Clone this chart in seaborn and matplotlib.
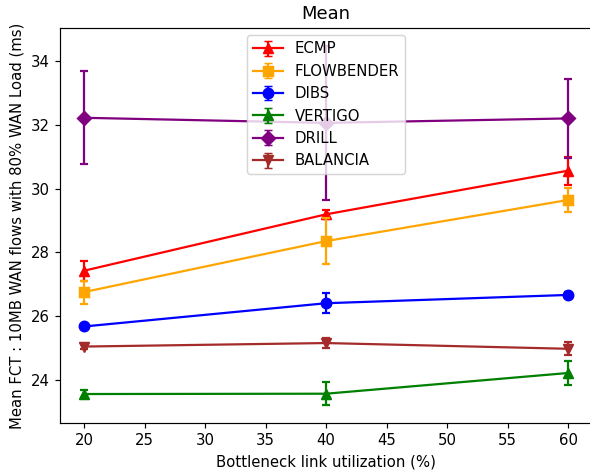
import numpy as np
import pandas as pd
import seaborn as sns
import matplotlib
matplotlib.use("Agg")
import matplotlib.pyplot as plt

# Bottleneck link utilization (%)
utilization = [20, 40, 60]

# Mean FCT (ms) and error per scheme
ecmp = [27.42, 29.19, 30.56]
ecmp_err = [0.32, 0.14, 0.44]
flowbender = [26.75, 28.35, 29.64]
flowbender_err = [0.36, 0.72, 0.37]
dibs = [25.67, 26.40, 26.66]
dibs_err = [0.05, 0.31, 0.08]
vertigo = [23.55, 23.56, 24.21]
vertigo_err = [0.13, 0.36, 0.38]
drill = [32.22, 32.06, 32.20]
drill_err = [1.46, 2.42, 1.25]
balancia = [25.04, 25.15, 24.97]
balancia_err = [0.08, 0.15, 0.20]

schemes = ["ECMP", "FLOWBENDER", "DIBS", "VERTIGO", "DRILL", "BALANCIA"]
means = [ecmp, flowbender, dibs, vertigo, drill, balancia]
errors = [ecmp_err, flowbender_err, dibs_err, vertigo_err, drill_err, balancia_err]
colors = ["red", "orange", "blue", "green", "purple", "brown"]
markers = ["^", "s", "o", "^", "D", "v"]

rows = []
for name, m, e in zip(schemes, means, errors):
    for u, v, err in zip(utilization, m, e):
        rows.append({"scheme": name, "util": u, "fct": v, "err": err})
df = pd.DataFrame(rows)

DPI = 107
MS = 7
fig = plt.figure(figsize=(590 / DPI, 476 / DPI), dpi=DPI)
ax = fig.add_axes([0.1014, 0.1113, 0.9024, 0.830])

handles = []
for name, color, marker in zip(schemes, colors, markers):
    sub = df[df["scheme"] == name]
    sns.lineplot(data=sub, x="util", y="fct", color=color, marker=marker,
                 markersize=MS, markeredgecolor=color, markeredgewidth=1.0,
                 linewidth=1.5, ax=ax, legend=False, errorbar=None)
    ax.errorbar(sub["util"], sub["fct"], yerr=sub["err"], fmt="none",
                ecolor=color, elinewidth=1.5, capsize=3, capthick=1.5)
    h = ax.errorbar([np.nan], [np.nan], yerr=[0], color=color, marker=marker,
                    markersize=MS, linewidth=1.5, capsize=3, label=name)
    handles.append(h)

ax.set_xlim(18, 62)
ax.set_ylim(22.64, 35.04)
ax.set_xticks([20, 25, 30, 35, 40, 45, 50, 55, 60])
ax.set_yticks([24, 26, 28, 30, 32, 34])
ax.set_title("Mean", fontsize=12)
ax.set_xlabel("Bottleneck link utilization (%)")
ax.set_ylabel("Mean FCT : 10MB WAN flows with 80% WAN Load (ms)")
ax.legend(handles=handles, labels=schemes, loc="upper center")

fig.savefig("out.png", dpi=DPI)
